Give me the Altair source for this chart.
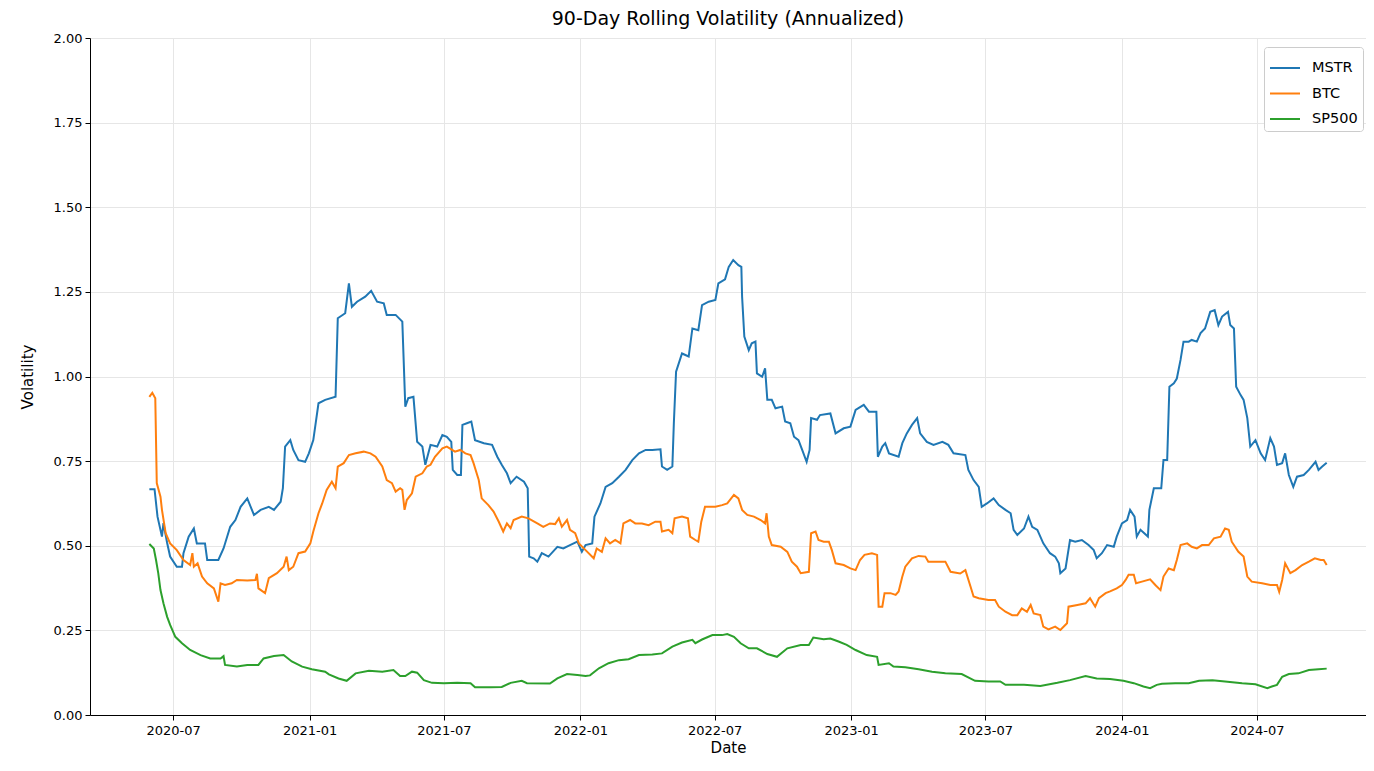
import altair as alt
import pandas as pd

START = "2020-05-29"

mstr_days = [1, 8, 12, 18, 20, 25, 29, 38, 45, 47, 54, 61, 65, 76, 79, 94, 101, 110, 117, 124, 133, 142, 151, 162, 169, 178, 181, 184, 191, 195, 202, 211, 216, 222, 229, 238, 252, 255, 265, 270, 274, 281, 292, 300, 308, 317, 321, 333, 342, 346, 350, 357, 362, 369, 373, 380, 389, 396, 402, 408, 410, 416, 421, 423, 429, 435, 440, 452, 463, 470, 476, 483, 488, 496, 506, 511, 513, 519, 524, 530, 539, 551, 559, 568, 578, 584, 589, 598, 601, 609, 616, 625, 634, 643, 652, 661, 670, 679, 690, 692, 699, 706, 708, 711, 719, 728, 733, 741, 746, 755, 764, 768, 777, 782, 788, 795, 799, 800, 803, 809, 813, 818, 820, 827, 831, 834, 840, 845, 854, 858, 865, 870, 876, 881, 887, 891, 893, 901, 905, 919, 926, 937, 946, 953, 964, 971, 981, 983, 989, 993, 998, 1011, 1016, 1022, 1029, 1036, 1040, 1049, 1058, 1070, 1078, 1085, 1101, 1105, 1112, 1119, 1123, 1130, 1139, 1146, 1155, 1162, 1166, 1171, 1180, 1186, 1191, 1198, 1206, 1215, 1222, 1227, 1229, 1236, 1242, 1249, 1258, 1267, 1274, 1278, 1285, 1292, 1301, 1305, 1312, 1319, 1323, 1329, 1332, 1337, 1347, 1349, 1355, 1365, 1368, 1373, 1376, 1382, 1386, 1391, 1395, 1402, 1406, 1413, 1418, 1424, 1431, 1437, 1442, 1447, 1455, 1458, 1463, 1466, 1472, 1476, 1481, 1485, 1492, 1499, 1505, 1512, 1517, 1521, 1528, 1532, 1537, 1543, 1548, 1557, 1564, 1573, 1577, 1582, 1588]
mstr_vals = [0.667, 0.667, 0.586, 0.527, 0.567, 0.508, 0.468, 0.438, 0.438, 0.478, 0.527, 0.551, 0.507, 0.507, 0.458, 0.458, 0.492, 0.556, 0.576, 0.615, 0.640, 0.591, 0.606, 0.615, 0.606, 0.630, 0.670, 0.793, 0.812, 0.783, 0.753, 0.748, 0.773, 0.812, 0.921, 0.931, 0.940, 1.172, 1.187, 1.275, 1.206, 1.221, 1.236, 1.253, 1.221, 1.216, 1.182, 1.182, 1.162, 0.911, 0.936, 0.940, 0.807, 0.793, 0.739, 0.798, 0.793, 0.827, 0.822, 0.807, 0.724, 0.709, 0.709, 0.857, 0.862, 0.867, 0.812, 0.803, 0.798, 0.763, 0.739, 0.714, 0.685, 0.704, 0.689, 0.670, 0.468, 0.463, 0.453, 0.478, 0.468, 0.497, 0.492, 0.502, 0.512, 0.482, 0.502, 0.507, 0.586, 0.625, 0.674, 0.685, 0.704, 0.724, 0.753, 0.773, 0.783, 0.783, 0.785, 0.734, 0.724, 0.734, 0.862, 1.014, 1.068, 1.059, 1.142, 1.137, 1.211, 1.221, 1.226, 1.275, 1.287, 1.324, 1.344, 1.329, 1.324, 1.236, 1.118, 1.078, 1.098, 1.103, 1.009, 0.999, 1.024, 0.931, 0.931, 0.906, 0.911, 0.867, 0.862, 0.822, 0.812, 0.783, 0.748, 0.783, 0.877, 0.872, 0.886, 0.891, 0.832, 0.847, 0.852, 0.901, 0.916, 0.896, 0.896, 0.763, 0.793, 0.803, 0.773, 0.763, 0.803, 0.832, 0.857, 0.877, 0.832, 0.807, 0.798, 0.807, 0.798, 0.773, 0.768, 0.724, 0.694, 0.674, 0.615, 0.625, 0.640, 0.620, 0.606, 0.596, 0.547, 0.532, 0.551, 0.586, 0.556, 0.547, 0.507, 0.478, 0.468, 0.448, 0.419, 0.433, 0.517, 0.512, 0.517, 0.502, 0.487, 0.463, 0.478, 0.502, 0.497, 0.527, 0.566, 0.576, 0.606, 0.586, 0.527, 0.547, 0.527, 0.606, 0.670, 0.670, 0.753, 0.753, 0.970, 0.980, 0.994, 1.049, 1.103, 1.103, 1.108, 1.103, 1.128, 1.142, 1.191, 1.196, 1.152, 1.177, 1.191, 1.152, 1.142, 0.970, 0.945, 0.931, 0.877, 0.793, 0.812, 0.773, 0.753, 0.818, 0.793, 0.739, 0.744, 0.773, 0.709, 0.674, 0.704, 0.709, 0.724, 0.748, 0.724, 0.734, 0.745]

btc_days = [1, 5, 9, 11, 16, 18, 23, 29, 38, 47, 56, 59, 61, 66, 72, 79, 88, 94, 97, 103, 112, 119, 133, 144, 146, 148, 157, 162, 173, 182, 186, 189, 195, 202, 211, 218, 222, 229, 234, 240, 247, 252, 255, 263, 270, 279, 290, 299, 306, 315, 321, 328, 333, 339, 342, 345, 348, 355, 360, 369, 375, 380, 386, 396, 402, 413, 420, 427, 434, 438, 445, 449, 458, 465, 472, 478, 483, 488, 492, 503, 512, 524, 532, 541, 548, 553, 557, 564, 568, 575, 580, 589, 600, 604, 611, 616, 622, 629, 636, 640, 649, 656, 665, 674, 683, 690, 692, 701, 706, 709, 719, 727, 730, 737, 741, 745, 750, 764, 773, 780, 789, 795, 800, 807, 816, 825, 831, 833, 836, 840, 852, 861, 867, 874, 879, 890, 893, 899, 903, 910, 917, 921, 926, 937, 946, 953, 959, 965, 975, 982, 984, 989, 992, 1000, 1007, 1011, 1016, 1020, 1029, 1038, 1047, 1051, 1074, 1081, 1094, 1101, 1108, 1112, 1119, 1132, 1141, 1146, 1155, 1164, 1171, 1177, 1184, 1189, 1193, 1202, 1206, 1213, 1222, 1229, 1238, 1240, 1252, 1263, 1269, 1276, 1281, 1290, 1296, 1305, 1312, 1317, 1321, 1328, 1331, 1339, 1350, 1357, 1364, 1368, 1375, 1382, 1386, 1391, 1400, 1406, 1413, 1420, 1429, 1436, 1445, 1451, 1456, 1460, 1469, 1476, 1481, 1487, 1501, 1512, 1521, 1524, 1528, 1532, 1539, 1546, 1555, 1564, 1572, 1580, 1584, 1588]
btc_vals = [0.940, 0.952, 0.936, 0.685, 0.645, 0.606, 0.537, 0.507, 0.487, 0.458, 0.443, 0.478, 0.438, 0.448, 0.409, 0.389, 0.374, 0.335, 0.389, 0.384, 0.389, 0.399, 0.397, 0.399, 0.417, 0.374, 0.360, 0.404, 0.419, 0.438, 0.468, 0.428, 0.438, 0.478, 0.483, 0.507, 0.542, 0.596, 0.625, 0.665, 0.689, 0.670, 0.734, 0.744, 0.768, 0.773, 0.778, 0.773, 0.763, 0.734, 0.694, 0.685, 0.660, 0.670, 0.665, 0.606, 0.635, 0.655, 0.704, 0.714, 0.734, 0.739, 0.763, 0.788, 0.793, 0.778, 0.783, 0.773, 0.768, 0.744, 0.694, 0.640, 0.620, 0.601, 0.571, 0.542, 0.566, 0.552, 0.576, 0.586, 0.581, 0.566, 0.556, 0.566, 0.564, 0.581, 0.556, 0.576, 0.547, 0.537, 0.507, 0.487, 0.463, 0.492, 0.482, 0.522, 0.507, 0.517, 0.507, 0.566, 0.576, 0.566, 0.566, 0.561, 0.571, 0.571, 0.542, 0.547, 0.537, 0.581, 0.586, 0.581, 0.527, 0.517, 0.512, 0.571, 0.615, 0.615, 0.620, 0.625, 0.650, 0.640, 0.606, 0.591, 0.586, 0.576, 0.566, 0.596, 0.527, 0.502, 0.497, 0.482, 0.453, 0.438, 0.419, 0.423, 0.537, 0.542, 0.517, 0.512, 0.512, 0.487, 0.448, 0.443, 0.433, 0.428, 0.458, 0.473, 0.478, 0.473, 0.320, 0.320, 0.360, 0.360, 0.355, 0.365, 0.409, 0.438, 0.463, 0.470, 0.468, 0.453, 0.453, 0.423, 0.418, 0.428, 0.379, 0.350, 0.345, 0.340, 0.340, 0.320, 0.305, 0.295, 0.295, 0.315, 0.305, 0.325, 0.300, 0.295, 0.261, 0.253, 0.261, 0.251, 0.271, 0.320, 0.325, 0.330, 0.345, 0.320, 0.345, 0.360, 0.365, 0.374, 0.384, 0.399, 0.414, 0.414, 0.389, 0.394, 0.401, 0.384, 0.369, 0.409, 0.433, 0.428, 0.458, 0.502, 0.507, 0.497, 0.492, 0.502, 0.502, 0.522, 0.527, 0.551, 0.547, 0.512, 0.482, 0.468, 0.409, 0.394, 0.389, 0.384, 0.384, 0.364, 0.399, 0.448, 0.419, 0.428, 0.443, 0.453, 0.463, 0.458, 0.458, 0.443]

sp_days = [1, 7, 10, 13, 16, 20, 25, 29, 36, 45, 56, 70, 83, 97, 101, 103, 119, 133, 148, 155, 169, 182, 193, 207, 220, 238, 243, 256, 267, 279, 297, 315, 330, 339, 346, 355, 362, 371, 382, 398, 416, 434, 440, 461, 476, 488, 503, 510, 541, 551, 564, 578, 589, 595, 607, 620, 634, 647, 661, 679, 692, 706, 719, 733, 737, 746, 760, 773, 780, 789, 798, 809, 820, 834, 847, 861, 879, 890, 896, 910, 919, 930, 941, 953, 968, 982, 984, 998, 1004, 1020, 1038, 1056, 1074, 1096, 1114, 1132, 1148, 1155, 1180, 1202, 1225, 1242, 1263, 1278, 1296, 1314, 1328, 1341, 1350, 1359, 1366, 1384, 1402, 1416, 1434, 1451, 1474, 1492, 1508, 1514, 1521, 1528, 1537, 1550, 1564, 1577, 1588]
sp_vals = [0.505, 0.492, 0.458, 0.419, 0.369, 0.330, 0.290, 0.266, 0.231, 0.212, 0.192, 0.177, 0.167, 0.167, 0.174, 0.148, 0.143, 0.148, 0.148, 0.167, 0.174, 0.177, 0.158, 0.143, 0.135, 0.128, 0.120, 0.108, 0.101, 0.123, 0.131, 0.128, 0.133, 0.115, 0.115, 0.128, 0.125, 0.103, 0.095, 0.094, 0.095, 0.094, 0.082, 0.082, 0.083, 0.095, 0.101, 0.094, 0.093, 0.108, 0.121, 0.118, 0.115, 0.117, 0.138, 0.153, 0.162, 0.165, 0.177, 0.179, 0.182, 0.202, 0.214, 0.222, 0.212, 0.223, 0.236, 0.236, 0.239, 0.231, 0.212, 0.197, 0.197, 0.180, 0.172, 0.197, 0.207, 0.207, 0.229, 0.224, 0.226, 0.217, 0.207, 0.192, 0.177, 0.172, 0.148, 0.153, 0.143, 0.141, 0.135, 0.128, 0.123, 0.121, 0.101, 0.099, 0.099, 0.089, 0.089, 0.086, 0.095, 0.103, 0.115, 0.108, 0.106, 0.101, 0.094, 0.084, 0.079, 0.089, 0.092, 0.094, 0.094, 0.101, 0.103, 0.099, 0.094, 0.091, 0.079, 0.084, 0.089, 0.113, 0.121, 0.123, 0.133, 0.135, 0.137]

series_names = ["MSTR", "BTC", "SP500"]
series_colors = ["#1f77b4", "#ff7f0e", "#2ca02c"]
x_ticks = ["2020-07", "2021-01", "2021-07", "2022-01", "2022-07", "2023-01", "2023-07", "2024-01", "2024-07"]
y_ticks = [0.0, 0.25, 0.5, 0.75, 1.0, 1.25, 1.5, 1.75, 2.0]

frames = []
for name, d, v in [("MSTR", mstr_days, mstr_vals), ("BTC", btc_days, btc_vals), ("SP500", sp_days, sp_vals)]:
    frames.append(pd.DataFrame({
        "Date": pd.Timestamp(START) + pd.to_timedelta(d, unit="D"),
        "Volatility": v,
        "Series": name,
    }))
df = pd.concat(frames, ignore_index=True)

def dt(s):
    y, m = s.split("-")
    return alt.DateTime(year=int(y), month=int(m), date=1)

x_vals = [dt(s) for s in x_ticks]

axis_common = dict(labelFontSize=13, titleFontSize=15, titleFontWeight="normal",
                   tickSize=5, grid=True, gridColor="#e6e6e6", domainColor="black",
                   tickColor="black", labelColor="black", titleColor="black")

chart = alt.Chart(df).mark_line(strokeWidth=2).encode(
    x=alt.X("Date:T",
            scale=alt.Scale(domain=[alt.DateTime(year=2020, month=3, date=11),
                                    alt.DateTime(year=2024, month=11, date=25)]),
            axis=alt.Axis(values=x_vals, format="%Y-%m", title="Date",
                          labelPadding=4, titlePadding=3, **axis_common)),
    y=alt.Y("Volatility:Q",
            scale=alt.Scale(domain=[0, 2], nice=False),
            axis=alt.Axis(values=y_ticks, format=".2f", title="Volatility",
                          labelPadding=3, titlePadding=18, **axis_common)),
    color=alt.Color("Series:N",
                    scale=alt.Scale(domain=series_names, range=series_colors),
                    sort=series_names,
                    legend=alt.Legend(title=None, orient="none", legendX=1174, legendY=9,
                                      symbolType="stroke", symbolStrokeWidth=2, symbolSize=900,
                                      labelFontSize=14.5, labelOffset=11, strokeColor="#cccccc",
                                      fillColor="white", padding=5, cornerRadius=3,
                                      rowPadding=2.5, labelColor="black")),
).properties(
    width=1276,
    height=677,
    title=alt.Title("90-Day Rolling Volatility (Annualized)", fontSize=19, fontWeight="normal",
                    color="black", offset=3),
    autosize=alt.AutoSizeParams(type="none"),
    padding={"left": 82, "top": 30, "right": 0, "bottom": 42},
).configure(
    font="DejaVu Sans",
).configure_view(
    stroke=None,
)

chart.save("out.html", embed_options={"renderer": "svg", "actions": False})
